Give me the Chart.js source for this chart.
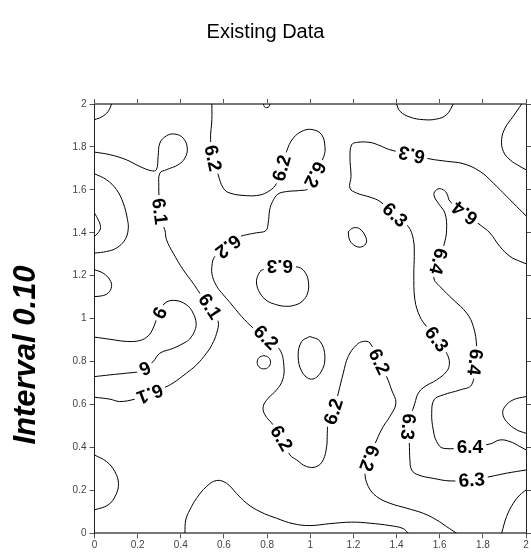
<!DOCTYPE html>
<html>
<head>
<meta charset="utf-8">
<script src="https://cdn.jsdelivr.net/npm/chart.js@4.4.1/dist/chart.umd.min.js"></script>
<style>
  html, body { margin: 0; padding: 0; background: #fff; }
  #wrap { width: 531px; height: 552px; }
</style>
</head>
<body>
<div id="wrap"><canvas id="contour" width="531" height="552"></canvas></div>
<script>
// contour lines, [x, y] in data units
let cornerTopLeft = [[0.079,2.0],[0.063,1.965],[0.032,1.939],[0,1.927]];
let leftBulge = [[0,1.675],[0.056,1.647],[0.102,1.601],[0.133,1.539],[0.153,1.461],[0.156,1.414],[0.141,1.367],[0.102,1.329],[0.056,1.313],[0,1.305]];
let leftNub = [[0,1.492],[0.017,1.461],[0.028,1.430],[0.022,1.407],[0,1.383]];
let leftBump = [[0,1.228],[0.040,1.212],[0.071,1.181],[0.079,1.150],[0.063,1.119],[0.032,1.106],[0,1.103]];
let lowLeftArc = [[0,0.365],[0.056,0.334],[0.094,0.288],[0.111,0.233],[0.099,0.179],[0.063,0.132],[0,0.109]];

let line61 = [[0,1.776],[0.071,1.764],[0.148,1.740],[0.210,1.709],[0.264,1.689],[0.287,1.694],[0.295,1.756],[0.303,1.818],
  [0.334,1.852],[0.372,1.860],[0.411,1.841],[0.430,1.795],[0.419,1.748],[0.388,1.717],[0.334,1.694],[0.303,1.678],
  [0.298,1.616],[0.300,1.554],[0.303,1.500],[0.315,1.440],[0.326,1.414],[0.334,1.367],[0.365,1.305],[0.411,1.228],
  [0.457,1.165],[0.488,1.119],[0.535,1.057],[0.573,0.987],[0.566,0.932],[0.545,0.880],[0.519,0.839],[0.473,0.785],
  [0.426,0.746],[0.364,0.700],[0.318,0.676],[0.257,0.650],[0.187,0.625],[0.117,0.614],[0.071,0.625],[0,0.634]];

let line60 = [[0,0.914],[0.071,0.904],[0.148,0.894],[0.210,0.898],[0.249,0.920],[0.272,0.956],[0.287,0.995],[0.303,1.026],
  [0.326,1.072],[0.372,1.085],[0.427,1.064],[0.457,1.026],[0.471,0.979],[0.465,0.945],[0.445,0.910],[0.426,0.893],
  [0.365,0.862],[0.303,0.839],[0.272,0.800],[0.233,0.769],[0.210,0.754],[0.148,0.746],[0.071,0.738],[0,0.730]];

let line62 = [[0.544,2.0],[0.544,1.927],[0.538,1.834],[0.550,1.748],[0.573,1.671],[0.597,1.608],[0.628,1.585],[0.705,1.573],
  [0.767,1.576],[0.805,1.592],[0.836,1.618],[0.855,1.660],[0.867,1.702],[0.890,1.779],[0.921,1.841],[0.968,1.876],
  [1.014,1.880],[1.053,1.857],[1.068,1.803],[1.063,1.756],[1.022,1.671],[0.991,1.606],[0.950,1.597],[0.890,1.592],
  [0.850,1.580],[0.825,1.545],[0.812,1.507],[0.805,1.445],[0.794,1.410],[0.751,1.400],[0.705,1.391],[0.674,1.381],
  [0.620,1.336],[0.558,1.290],[0.544,1.243],[0.547,1.197],[0.567,1.150],[0.597,1.111],[0.628,1.075],[0.682,1.010],
  [0.736,0.956],[0.795,0.913],[0.859,0.855],[0.878,0.777],[0.872,0.715],[0.844,0.668],[0.805,0.629],[0.782,0.591],
  [0.790,0.552],[0.828,0.505],[0.867,0.443],[0.906,0.365],[0.937,0.342],[0.983,0.311],[1.030,0.311],[1.060,0.342],
  [1.076,0.404],[1.079,0.466],[1.083,0.513],[1.107,0.567],[1.130,0.653],[1.153,0.746],[1.176,0.824],[1.215,0.878],
  [1.246,0.894],[1.277,0.886],[1.320,0.800],[1.354,0.730],[1.377,0.668],[1.397,0.606],[1.369,0.544],[1.338,0.497],
  [1.308,0.435],[1.274,0.350],[1.254,0.287],[1.269,0.218],[1.308,0.171],[1.369,0.140],[1.447,0.117],[1.524,0.093],
  [1.586,0.062],[1.632,0.031],[1.679,0]];

let lowArc = [[0.419,0],[0.423,0.062],[0.442,0.109],[0.473,0.163],[0.519,0.218],[0.566,0.246],[0.612,0.233],[0.658,0.186],
  [0.705,0.140],[0.767,0.101],[0.844,0.070],[0.920,0.045],[0.998,0.036],[1.091,0.045],[1.192,0.052],[1.277,0.047],
  [1.369,0.036],[1.431,0.022],[1.454,0]];

let loop63 = [[0.859,1.245],[0.944,1.240],[0.975,1.217],[0.991,1.175],[0.988,1.120],[0.962,1.080],[0.921,1.061],[0.880,1.058],
  [0.840,1.066],[0.800,1.083],[0.767,1.119],[0.751,1.166],[0.759,1.205],[0.779,1.228],[0.859,1.245]];
let smallRing = [[0.785,0.828],[0.807,0.819],[0.816,0.797],[0.807,0.775],[0.785,0.766],[0.763,0.775],[0.754,0.797],[0.763,0.819],[0.785,0.828]];
let midOval = [[0.998,0.917],[1.045,0.895],[1.068,0.822],[1.050,0.752],[1.006,0.718],[0.962,0.752],[0.944,0.827],[0.960,0.893],[0.998,0.917]];
let upperOval = [[1.176,1.405],[1.200,1.423],[1.230,1.418],[1.255,1.385],[1.260,1.355],[1.240,1.335],[1.210,1.338],[1.183,1.365],[1.176,1.405]];
let topNotch = [[0.783,2.0],[0.787,1.988],[0.798,1.983],[0.809,1.988],[0.813,2.0]];

let line63 = [[2.0,1.479],[1.972,1.507],[1.910,1.570],[1.848,1.632],[1.787,1.686],[1.709,1.722],[1.632,1.733],[1.555,1.744],
  [1.470,1.764],[1.369,1.787],[1.323,1.806],[1.277,1.821],[1.215,1.821],[1.192,1.810],[1.184,1.756],[1.189,1.663],
  [1.184,1.608],[1.215,1.585],[1.277,1.566],[1.323,1.546],[1.393,1.484],[1.454,1.430],[1.478,1.368],[1.482,1.290],
  [1.480,1.212],[1.485,1.088],[1.508,1.010],[1.539,0.963],[1.586,0.905],[1.632,0.839],[1.645,0.793],[1.632,0.754],
  [1.586,0.715],[1.532,0.684],[1.501,0.653],[1.485,0.606],[1.454,0.497],[1.459,0.420],[1.462,0.342],[1.470,0.295],
  [1.501,0.272],[1.570,0.256],[1.648,0.244],[1.748,0.249],[1.833,0.264],[1.910,0.280],[2.0,0.295]];
let topArc = [[1.400,2.0],[1.416,1.966],[1.462,1.939],[1.524,1.927],[1.586,1.930],[1.632,1.950],[1.663,2.0]];

let line64 = [[2.0,1.256],[1.972,1.267],[1.926,1.290],[1.879,1.336],[1.833,1.399],[1.787,1.437],[1.717,1.492],[1.648,1.546],
  [1.632,1.585],[1.609,1.604],[1.586,1.601],[1.573,1.577],[1.593,1.538],[1.624,1.492],[1.632,1.414],[1.620,1.344],
  [1.594,1.267],[1.573,1.189],[1.601,1.150],[1.663,1.088],[1.725,1.026],[1.756,0.963],[1.771,0.870],[1.764,0.797],
  [1.748,0.692],[1.694,0.668],[1.617,0.645],[1.574,0.622],[1.563,0.559],[1.570,0.482],[1.586,0.427],[1.617,0.396],
  [1.740,0.404],[1.833,0.416],[1.879,0.435],[1.926,0.427],[1.972,0.404],[2.0,0.389]];
let topRightArc = [[1.980,2.0],[1.941,1.943],[1.903,1.888],[1.887,1.834],[1.895,1.779],[1.926,1.740],[1.972,1.709],[2.0,1.694]];
let rightBump = [[2.0,0.637],[1.941,0.622],[1.903,0.591],[1.892,0.559],[1.910,0.520],[1.957,0.482],[2.0,0.466]];
let lowRightArc = [[1.887,0],[1.910,0.078],[1.941,0.140],[1.972,0.179],[2.0,0.202]];

let allLines = [cornerTopLeft, leftBulge, leftNub, leftBump, lowLeftArc, line61, line60, line62, lowArc,
  loop63, smallRing, midOval, upperOval, topNotch, line63, topArc, line64, topRightArc, rightBump, lowRightArc];

// contour labels: text, x, y, angle along the line (deg)
let labelText = ['6.2','6.2','6.2','6.2','6.3','6.1','6.1','6','6','6.1','6.2','6.2','6.2','6.2','6.2',
  '6.3','6.3','6.3','6.3','6.3','6.4','6.4','6.4','6.4'];
let labelX = [0.550,0.867,1.022,0.620,0.859,0.303,0.535,0.303,0.233,0.257,0.795,0.867,1.107,1.320,1.274,
  1.470,1.393,1.586,1.454,1.748,1.717,1.594,1.764,1.740];
let labelY = [1.748,1.702,1.671,1.336,1.245,1.500,1.057,1.026,0.769,0.650,0.913,0.443,0.567,0.800,0.350,
  1.764,1.484,0.905,0.497,0.249,1.492,1.267,0.797,0.404];
let labelAngle = [78,-74,117,142,180,83,57,-63,155,159,45,60,-72,64,110,193,42,53,95,-4,217,105,97,0];

let fontFam = '"Liberation Sans", Arial, sans-serif';

let contourLabels = {
  id: 'contourLabels',
  afterDatasetsDraw(chart) {
    let ctx = chart.ctx;
    let xs = chart.scales.x, ys = chart.scales.y;
    ctx.save();
    ctx.font = 'bold 19px ' + fontFam;
    ctx.textAlign = 'center';
    ctx.textBaseline = 'middle';
    labelText.forEach((t, i) => {
      let px = xs.getPixelForValue(labelX[i]);
      let py = ys.getPixelForValue(labelY[i]);
      let w = ctx.measureText(t).width;
      ctx.save();
      ctx.translate(px, py);
      ctx.rotate(labelAngle[i] * Math.PI / 180);
      ctx.fillStyle = '#fff';
      ctx.fillRect(-w / 2 - 3, -9, w + 6, 18);
      ctx.fillStyle = '#000';
      ctx.fillText(t, 0, 1);
      ctx.restore();
    });
    ctx.restore();
  },
  afterDraw(chart) {
    let ctx = chart.ctx;
    ctx.save();
    ctx.translate(26, 355);
    ctx.rotate(-Math.PI / 2);
    ctx.font = 'italic bold 31px ' + fontFam;
    ctx.fillStyle = '#000';
    ctx.textAlign = 'center';
    ctx.textBaseline = 'middle';
    ctx.fillText('Interval 0.10', 0, 0);
    ctx.restore();
  }
};

let tickFmt = v => String(Math.round(v * 10) / 10);

function axis(position, showLabels, size, borderColor, borderWidth) {
  let horiz = position === 'top' || position === 'bottom';
  return {
    type: 'linear',
    position: position,
    min: 0,
    max: 2,
    ticks: {
      display: showLabels,
      stepSize: 0.2,
      color: '#444',
      padding: horiz ? 1 : 3,
      maxRotation: 0,
      font: { family: fontFam, size: 10 },
      callback: tickFmt
    },
    grid: { display: true, drawOnChartArea: false, drawTicks: true, tickLength: 5, color: '#555' },
    border: { display: true, color: borderColor, width: borderWidth },
    afterFit: s => { if (horiz) s.height = size; else s.width = size; }
  };
}

new Chart(document.getElementById('contour'), {
  type: 'scatter',
  data: {
    datasets: allLines.map(pts => ({
      data: pts.map(p => ({ x: p[0], y: p[1] })),
      showLine: true,
      borderColor: '#000',
      borderWidth: 1,
      pointRadius: 0,
      tension: 0.4,
      fill: false,
      xAxisID: 'x',
      yAxisID: 'y'
    }))
  },
  options: {
    responsive: false,
    animation: false,
    events: [],
    layout: { padding: 0 },
    plugins: {
      legend: { display: false },
      tooltip: { enabled: false },
      title: {
        display: true,
        text: 'Existing Data',
        color: '#000',
        font: { family: fontFam, size: 20, weight: 'normal' },
        padding: { top: 20, bottom: 55 }
      }
    },
    scales: {
      x: axis('bottom', true, 18.7, '#777', 2),
      x2: axis('top', false, 5, '#777', 2),
      y: axis('left', true, 94.5, '#222', 1),
      y2: axis('right', false, 5, '#222', 1)
    }
  },
  plugins: [contourLabels]
});
</script>
</body>
</html>
